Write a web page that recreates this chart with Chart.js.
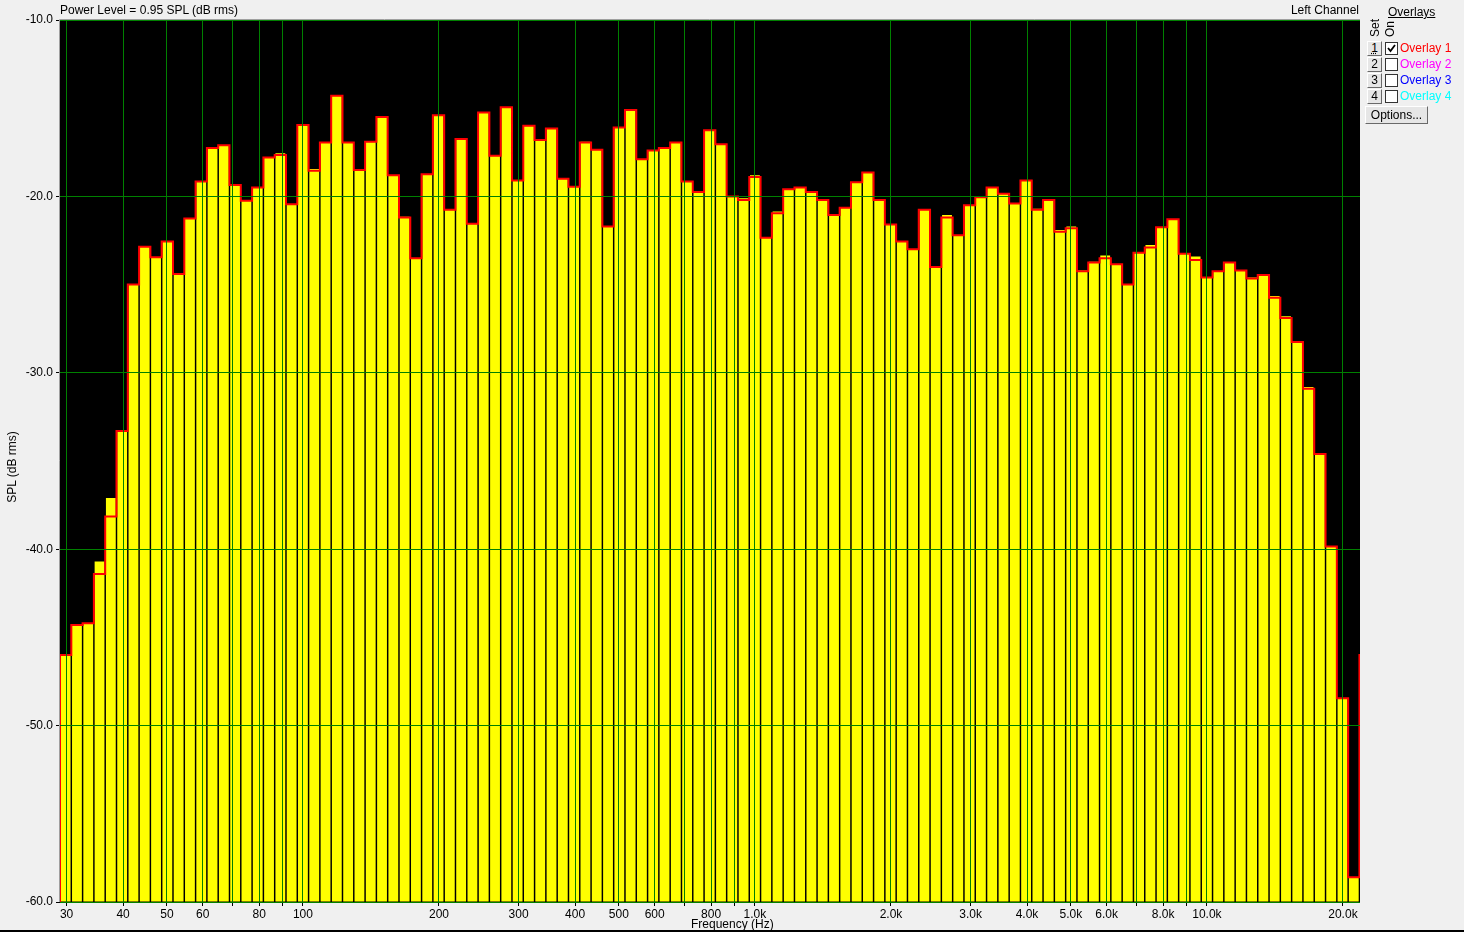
<!DOCTYPE html>
<html>
<head>
<meta charset="utf-8">
<script src="https://cdn.jsdelivr.net/npm/chart.js@4.4.1/dist/chart.umd.min.js"></script>
<style>
body { margin: 0; background: #f0f0f0; font-family: "Liberation Sans", Arial, sans-serif; font-size: 12px; color: #000; }
#wrap { position: relative; width: 1464px; height: 932px; overflow: hidden; }
#chart { position: absolute; left: 0; top: 0; }
.txt { position: absolute; white-space: nowrap; line-height: 14px; }
.rot { position: absolute; white-space: nowrap; transform: rotate(-90deg); transform-origin: center; line-height: 14px; }
.btn { position: absolute; width: 13px; height: 13px; background: #e6e6e6; border: 1px solid; border-color: #fff #696969 #696969 #fff; text-align: center; line-height: 13px; font-size: 12px; }
.chk { position: absolute; width: 11px; height: 11px; background: #fff; border: 1px solid #333; }
#bottomline { position: absolute; left: 0; top: 930px; width: 1464px; height: 2px; background: #000; }
</style>
</head>
<body>
<div id="wrap">
  <canvas id="chart" width="1464" height="932"></canvas>

  <div class="txt" style="left:60px;top:3px;">Power Level = 0.95 SPL (dB rms)</div>
  <div class="txt" style="right:105px;top:3px;">Left Channel</div>
  <div class="rot" style="left:-26px;top:460px;width:76px;text-align:center;">SPL (dB rms)</div>
  <div class="txt" style="left:691px;top:917px;">Frequency (Hz)</div>

  <!-- overlay panel -->
  <div class="txt" style="left:1388px;top:5px;text-decoration:underline;">Overlays</div>
  <div class="rot" style="left:1364px;top:21px;width:22px;text-align:center;">Set</div>
  <div class="rot" style="left:1379px;top:22px;width:22px;text-align:center;">On</div>

  <div class="btn" style="left:1367px;top:41px;text-decoration:underline dotted;">1</div>
  <div class="chk" style="left:1385px;top:42px;"><svg width="11" height="11" style="position:absolute;left:0;top:0"><path d="M2 5 L4.5 8 L9 2" stroke="#000" stroke-width="1.8" fill="none"/></svg></div>
  <div class="txt" style="left:1400px;top:41px;color:#ff0000;">Overlay 1</div>

  <div class="btn" style="left:1367px;top:57px;">2</div>
  <div class="chk" style="left:1385px;top:58px;"></div>
  <div class="txt" style="left:1400px;top:57px;color:#ff00ff;">Overlay 2</div>

  <div class="btn" style="left:1367px;top:73px;">3</div>
  <div class="chk" style="left:1385px;top:74px;"></div>
  <div class="txt" style="left:1400px;top:73px;color:#0000ff;">Overlay 3</div>

  <div class="btn" style="left:1367px;top:89px;">4</div>
  <div class="chk" style="left:1385px;top:90px;"></div>
  <div class="txt" style="left:1400px;top:89px;color:#00ffff;">Overlay 4</div>

  <div class="btn" style="left:1365px;top:106px;width:61px;height:16px;line-height:16px;">Options...</div>

  <div id="bottomline"></div>
</div>

<script>
// 1/12 octave (base 10) band numbers relative to 1 kHz
const firstBand = -61;
const bandCount = 115;

// measured SPL per band (yellow bars), dB
const bandDb = [
  -46.0, -44.3, -44.2, -40.7, -37.1, -33.3, -25.0, -22.85, -23.45, -22.55,
  -24.4, -21.25, -19.15, -17.2, -17.1, -19.35, -20.25, -19.5, -17.8, -17.55,
  -20.45, -15.95, -18.45, -16.95, -14.3, -16.95, -18.5, -16.9, -15.5, -18.8,
  -21.15, -23.5, -18.75, -15.4, -20.75, -16.75, -21.55, -15.25, -17.7, -14.95,
  -19.1, -16.0, -16.8, -16.15, -19.0, -19.45, -16.9, -17.35, -21.7, -16.1,
  -15.1, -17.9, -17.4, -17.25, -16.95, -19.15, -19.75, -16.25, -17.05, -20.0,
  -20.1, -18.8, -22.35, -20.85, -19.6, -19.5, -19.75, -20.2, -21.05, -20.65,
  -19.2, -18.65, -20.2, -21.6, -22.55, -23.0, -20.75, -24.0, -21.05, -22.2,
  -20.5, -20.05, -19.5, -19.85, -20.4, -19.1, -20.7, -20.2, -21.9, -21.7,
  -24.2, -23.7, -23.35, -23.85, -25.0, -23.2, -22.75, -21.75, -21.3, -23.25,
  -23.4, -24.6, -24.25, -23.75, -24.2, -24.6, -24.45, -25.65, -26.8, -28.25,
  -30.8, -34.6, -39.85, -48.45, -58.6
];

// overlay 1 (red outline), starts one band before the first bar and ends one after
const overlayDb = [
  -60.0,
  -46.0, -44.3, -44.2, -41.4, -38.15, -33.3, -25.0, -22.85, -23.45, -22.55,
  -24.4, -21.25, -19.15, -17.25, -17.1, -19.35, -20.25, -19.5, -17.8, -17.65,
  -20.45, -15.95, -18.55, -16.95, -14.3, -16.95, -18.5, -16.9, -15.5, -18.8,
  -21.2, -23.5, -18.75, -15.4, -20.75, -16.75, -21.55, -15.25, -17.7, -14.95,
  -19.1, -16.0, -16.8, -16.15, -19.0, -19.45, -16.95, -17.35, -21.7, -16.1,
  -15.1, -17.9, -17.4, -17.25, -16.95, -19.15, -19.75, -16.25, -17.05, -20.0,
  -20.2, -18.9, -22.35, -20.95, -19.6, -19.5, -19.75, -20.2, -21.05, -20.65,
  -19.2, -18.65, -20.2, -21.6, -22.55, -23.0, -20.75, -24.0, -21.2, -22.2,
  -20.5, -20.05, -19.5, -19.85, -20.4, -19.1, -20.75, -20.2, -22.0, -21.8,
  -24.25, -23.75, -23.5, -23.85, -25.0, -23.2, -22.9, -21.75, -21.3, -23.25,
  -23.6, -24.6, -24.25, -23.75, -24.2, -24.65, -24.45, -25.75, -26.9, -28.25,
  -30.9, -34.6, -39.85, -48.45, -58.6, -46.0
];

const tickFreqs = [30, 40, 50, 60, 70, 80, 90, 100, 200, 300, 400, 500, 600, 700, 800, 900,
  1000, 2000, 3000, 4000, 5000, 6000, 7000, 8000, 9000, 10000, 20000];
const tickLabels = ['30', '40', '50', '60', '', '80', '', '100', '200', '300', '400', '500', '600', '', '800', '',
  '1.0k', '2.0k', '3.0k', '4.0k', '5.0k', '6.0k', '', '8.0k', '', '10.0k', '20.0k'];

const bandFreq = n => 1000 * Math.pow(10, n / 40);

const barPoints = bandDb.map((v, i) => ({ x: bandFreq(firstBand + i), y: v }));
const overlayPoints = overlayDb.map((v, i) => ({ x: bandFreq(firstBand - 1 + i), y: v }));

// black plot background + grey frame on top/left
const plotFrame = {
  id: 'plotFrame',
  beforeDraw(chart) {
    const a = chart.chartArea, c = chart.ctx;
    c.save();
    c.fillStyle = '#000';
    c.fillRect(a.left, a.top, a.right - a.left, a.bottom - a.top);
    c.restore();
  },
  afterDraw(chart) {
    const a = chart.chartArea, c = chart.ctx;
    c.save();
    c.strokeStyle = '#a0a0a0';
    c.lineWidth = 1;
    c.beginPath();
    c.moveTo(a.left - 0.5, a.bottom);
    c.lineTo(a.left - 0.5, a.top - 0.5);
    c.lineTo(a.right, a.top - 0.5);
    c.stroke();
    c.restore();
  }
};

const ctx = document.getElementById('chart').getContext('2d');
new Chart(ctx, {
  type: 'bar',
  data: {
    datasets: [
      {
        type: 'line',
        data: overlayPoints,
        borderColor: '#ff0000',
        borderWidth: 2,
        pointRadius: 0,
        stepped: 'middle',
        fill: false,
        clip: 0,
        order: 0
      },
      {
        type: 'bar',
        data: barPoints,
        backgroundColor: '#ffff00',
        borderWidth: 0,
        base: -60,
        barPercentage: 0.87,
        categoryPercentage: 1.0,
        order: 1
      }
    ]
  },
  options: {
    responsive: false,
    animation: false,
    layout: { padding: { left: 0, top: 20, right: 104, bottom: 0 } },
    plugins: { legend: { display: false }, tooltip: { enabled: false }, title: { display: false } },
    scales: {
      x: {
        type: 'logarithmic',
        min: bandFreq(firstBand - 0.5),
        max: bandFreq(firstBand + bandCount - 0.45),
        offset: false,
        afterBuildTicks: s => { s.ticks = tickFreqs.map(v => ({ value: v })); },
        afterFit: s => { s.height = 30; },
        grid: { z: 1, color: '#008000', lineWidth: 1, offset: false, tickColor: '#000', tickLength: 4, drawTicks: true },
        border: { display: false },
        ticks: {
          autoSkip: false, maxRotation: 0, padding: 1,
          color: '#000', font: { family: 'Liberation Sans', size: 12 },
          callback: (v, i) => tickLabels[i]
        }
      },
      y: {
        type: 'linear',
        min: -60,
        max: -10,
        afterFit: s => { s.width = 60; },
        grid: { z: 1, color: '#008000', lineWidth: 1, tickColor: '#000', tickLength: 4 },
        border: { display: false },
        ticks: {
          stepSize: 10, padding: 3,
          color: '#000', font: { family: 'Liberation Sans', size: 12 },
          callback: v => v.toFixed(1)
        }
      }
    }
  },
  plugins: [plotFrame]
});
</script>
</body>
</html>
